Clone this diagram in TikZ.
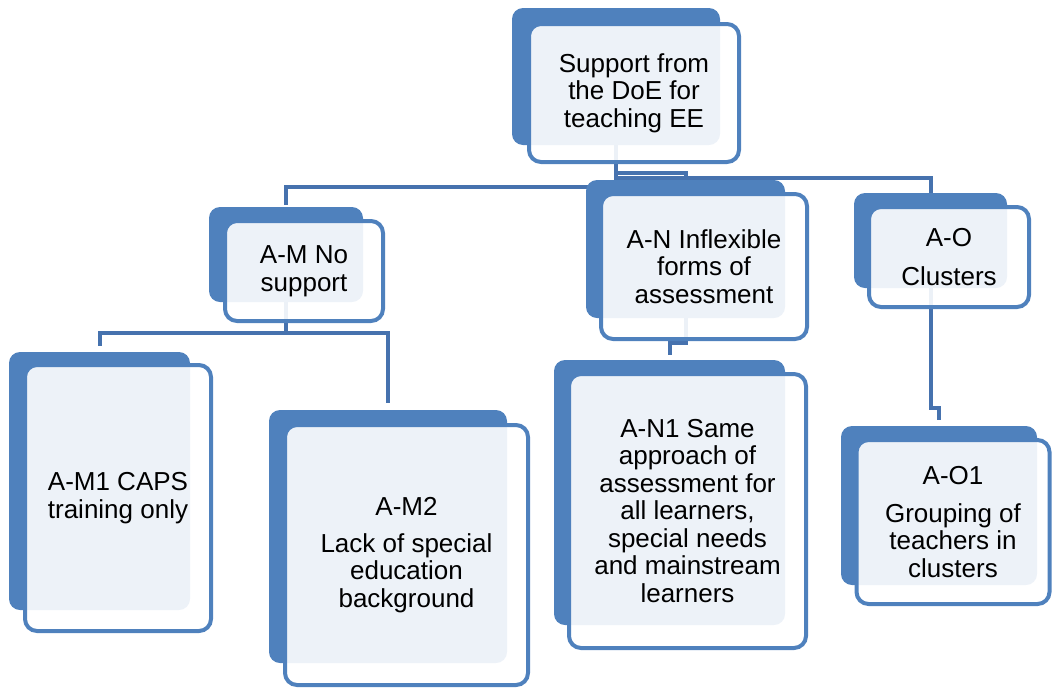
\documentclass[tikz,border=0pt]{standalone}
\usepackage{fontspec}
\setmainfont{Liberation Sans}
\pgfdeclarelayer{bg}
\pgfsetlayers{bg,main}
\definecolor{boxblue}{RGB}{79,129,189}
\definecolor{lineblue}{RGB}{70,114,174}
\begin{document}
\begin{tikzpicture}[x=1pt,y=-1pt,
  backbox/.style={rectangle, rounded corners=11pt, fill=boxblue, draw=none, inner sep=0pt},
  frontbox/.style={rectangle, rounded corners=12pt, draw=boxblue, line width=4pt, fill=white, fill opacity=0.9, text opacity=1, inner sep=0pt, align=center, font=\fontsize{26}{27.5}\selectfont},
  conn/.style={draw=lineblue, line width=4pt}
]
\useasboundingbox (0,0) rectangle (1052,689);

% top
\node[backbox, minimum width=208pt, minimum height=137pt] (topb) at (616,76.5) {};
\node[frontbox, minimum width=210pt, minimum height=138pt] (topf) at (634,93) {Support from\\the DoE for\\teaching EE};
% A-M
\node[backbox, minimum width=154pt, minimum height=95pt] (amb) at (286,254.5) {};
\node[frontbox, minimum width=158pt, minimum height=100pt] (amf) at (304,271) {A-M No\\support};
% A-N
\node[backbox, minimum width=199pt, minimum height=138pt] (anb) at (685.5,249) {};
\node[frontbox, minimum width=206pt, minimum height=145pt] (anf) at (704,266.5) {A-N Inflexible\\forms of\\assessment};
% A-O
\node[backbox, minimum width=153pt, minimum height=95pt] (aob) at (930.5,240.5) {};
\node[frontbox, minimum width=160pt, minimum height=100pt] (aof) at (949,257) {A-O\\[11pt]Clusters};
% A-M1
\node[backbox, minimum width=181pt, minimum height=258pt] (am1b) at (99.5,481) {};
\node[frontbox, minimum width=186pt, minimum height=266pt] (am1f) at (118,498) {A-M1 CAPS\\training only};
% A-M2
\node[backbox, minimum width=238pt, minimum height=253pt] (am2b) at (388,536.5) {};
\node[frontbox, minimum width=243pt, minimum height=260pt] (am2f) at (406.5,555) {A-M2\\[9pt]Lack of special\\education\\background};
% A-N1
\node[backbox, minimum width=231pt, minimum height=265pt] (an1b) at (669.5,492.5) {};
\node[frontbox, minimum width=237pt, minimum height=274pt] (an1f) at (687.5,511) {A-N1 Same\\approach of\\assessment for\\all learners,\\special needs\\and mainstream\\learners};
% A-O1
\node[backbox, minimum width=196pt, minimum height=159pt] (ao1b) at (939,505.5) {};
\node[frontbox, minimum width=193pt, minimum height=164pt] (ao1f) at (953,522) {A-O1\\[10pt]Grouping of\\teachers in\\clusters};

\begin{pgfonlayer}{bg}
\draw[conn, shorten >=2pt] (topb.south) -- (topb.south |- 0,187) -| (amb.north);
\draw[conn] (topb.south) -- (topb.south |- 0,173) -| (anb.north);
\draw[conn, shorten >=-1pt] (topb.south) -- (topb.south |- 0,178) -| (aob.north);
\draw[conn, shorten >=6pt] (amb.south) -- (amb.south |- 0,333) -| (am1b.north);
\draw[conn, shorten >=7pt] (amb.south) -- (amb.south |- 0,333) -| (am2b.north);
\draw[conn, shorten >=5pt] (anb.south) -- (anb.south |- 0,343) -| (an1b.north);
\draw[conn, shorten >=6pt] (aob.south) -- (aob.south |- 0,408) -| (ao1b.north);
\end{pgfonlayer}
\end{tikzpicture}
\end{document}
